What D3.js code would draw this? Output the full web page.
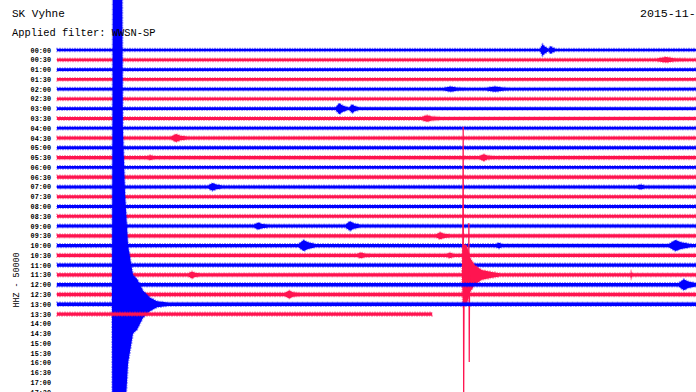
<!DOCTYPE html>
<html>
<head>
<meta charset="utf-8">
<script src="https://cdn.jsdelivr.net/npm/d3@7"></script>
<style>
  body { margin: 0; background: #fff; }
  svg { display: block; }
  text { font-family: "Liberation Mono", "DejaVu Sans Mono", monospace; fill: #000; }
</style>
</head>
<body>
<div id="chartContainer"></div>
<script>
// Helicorder for station SK Vyhne, one row per 30 minutes
const station = "SK Vyhne";
const filterName = "Applied filter: WWSN-SP";
const dateLabel = "2015-11-25";
const channelLabel = "HHZ - 50000";

// background noise level of each row (counts, half width of the trace)
const rowNoise = [
  7000, 7000, 7000, 7000, 7000, 7500, 7000, 7500, 7000, 7500,
  7500, 8000, 7500, 8000, 7500, 8000, 7500, 8000, 8000, 8000,
  8000, 8000, 8000, 8500, 8500, 8500, 8500, 8000
];
const lastSampleMin = 15.14; // last row stops here

// small events: [row, onset (min), peak (counts), duration (min)]
const smallEvents = [
  [0, 19.5, 30000, 0.35], [0, 19.85, 20000, 0.3],
  [1, 24.2, 14000, 1.3],
  [4, 15.6, 13000, 1.0], [4, 17.3, 13000, 1.3],
  [6, 11.25, 28000, 0.5], [6, 11.8, 22000, 0.4],
  [7, 14.7, 17000, 0.8],
  [9, 4.6, 20000, 0.7],
  [11, 3.6, 12000, 0.6], [11, 17.05, 17000, 0.6],
  [14, 6.1, 20000, 0.6], [14, 23.4, 13000, 0.6],
  [18, 7.95, 18000, 0.6], [18, 11.65, 24000, 0.6],
  [19, 15.3, 18000, 0.6],
  [20, 9.75, 28000, 0.7], [20, 17.7, 14000, 0.5], [20, 24.7, 28000, 0.9],
  [21, 12.1, 15000, 0.6], [21, 15.7, 14000, 0.6],
  [23, 5.3, 18000, 0.5], [23, 23.15, 18000, 0.1],
  [24, 25.1, 28000, 0.7],
  [25, 9.2, 20000, 0.6]
];

// large events, envelope: [min, counts]
const blueQuakeRow = 26;
const blueQuake = [
  [2.22, 0], [2.26, 2000000], [2.62, 2000000], [2.66, 900000], [2.75, 560000],
  [2.87, 300000], [3.07, 150000], [3.23, 130000], [3.47, 70000], [3.75, 35000],
  [4.04, 15000], [4.5, 0]
];
const redQuakeRow = 23;
const redQuake = [
  [16.35, 0], [16.39, 160000], [16.55, 150000], [16.67, 90000], [16.87, 50000],
  [17.15, 25000], [17.56, 15000], [17.9, 0]
];
// single large swings of the red event: [min, counts]
const redSpikes = [
  [16.38, 0], [16.40, 757000], [16.42, -680000], [16.44, 0],
  [16.62, 0], [16.63, 266000], [16.645, -445000], [16.66, 0]
];

const W = 696, H = 392;
const rowStep = 9.78;
const nRows = 48;

const svg = d3.select("#chartContainer")
  .append("svg")
  .attr("width", W)
  .attr("height", H);

const x = d3.scaleLinear().domain([0, 30]).range([57, 800]);
const y = d3.scaleLinear().domain([0, nRows - 1]).range([50, 50 + (nRows - 1) * rowStep]);
const amp = d3.scaleLinear().domain([0, 50000]).range([0, rowStep]);

const colorOf = i => i % 2 === 0 ? "#0000ff" : "#ff1450";

// row labels 00:00, 00:30, ... (only the ones that reach the window)
const fmt = d3.timeFormat("%H:%M");
const rowTimes = d3.range(nRows).map(i => new Date(2015, 10, 25, 0, i * 30))
  .filter((d, i) => y(i) < H + 3);

// turns a knot list into a function that is 0 outside its span
function knotFn(knots) {
  const s = d3.scaleLinear().domain(knots.map(k => k[0])).range(knots.map(k => k[1]));
  const t0 = knots[0][0], t1 = knots[knots.length - 1][0];
  return t => (t < t0 || t > t1) ? 0 : s(t);
}

function envelope(row) {
  const end = row === rowNoise.length - 1 ? lastSampleMin : 30;
  const lists = smallEvents.filter(e => e[0] === row)
    .map(e => [[e[1], 0], [e[1] + e[3] * 0.3, e[2]], [e[1] + e[3] * 0.55, e[2] * 0.6], [e[1] + e[3], 0]]);
  if (row === blueQuakeRow) lists.push(blueQuake);
  if (row === redQuakeRow) lists.push(redQuake);
  const fns = lists.map(knotFn);
  let times = [0, end];
  lists.forEach(l => l.forEach(k => times.push(k[0])));
  times = Array.from(new Set(times)).filter(t => t >= 0 && t <= end).sort((a, b) => a - b);
  return times.map(t => [t, Math.max(rowNoise[row], ...fns.map(f => f(t)))]);
}

const traces = svg.append("g");

rowNoise.forEach((n, row) => {
  const yc = y(row);
  const area = d3.area()
    .x(d => x(d[0]))
    .y0(d => yc + amp(d[1]))
    .y1(d => yc - amp(d[1]));
  traces.append("path")
    .datum(envelope(row))
    .attr("d", area)
    .attr("fill", colorOf(row))
    .attr("stroke", colorOf(row))
    .attr("stroke-width", 2)
    .attr("stroke-opacity", 0.4)
    .attr("stroke-dasharray", "1 1 2 1");

  if (row === redQuakeRow) {
    const line = d3.line().x(d => x(d[0])).y(d => yc - amp(d[1]));
    traces.append("path")
      .datum(redSpikes)
      .attr("d", line)
      .attr("fill", "none")
      .attr("stroke", colorOf(row))
      .attr("stroke-width", 1.2);
  }
});

// time labels
svg.append("g")
  .selectAll("text")
  .data(rowTimes)
  .join("text")
  .attr("x", 51)
  .attr("y", (d, i) => y(i) + 2.5)
  .attr("text-anchor", "end")
  .attr("font-size", 6.8)
  .attr("font-weight", "bold")
  .text(d => fmt(d));

// header
svg.append("text").attr("x", 12).attr("y", 17).attr("font-size", 11).text(station);
svg.append("text").attr("x", 12).attr("y", 36).attr("font-size", 10.4).text(filterName);
svg.append("text").attr("x", 640).attr("y", 17).attr("font-size", 11.6).text(dateLabel);

// channel label on the left
svg.append("text")
  .attr("transform", "translate(19,280) rotate(-90)")
  .attr("text-anchor", "middle")
  .attr("font-size", 8.3)
  .text(channelLabel);
</script>
</body>
</html>
